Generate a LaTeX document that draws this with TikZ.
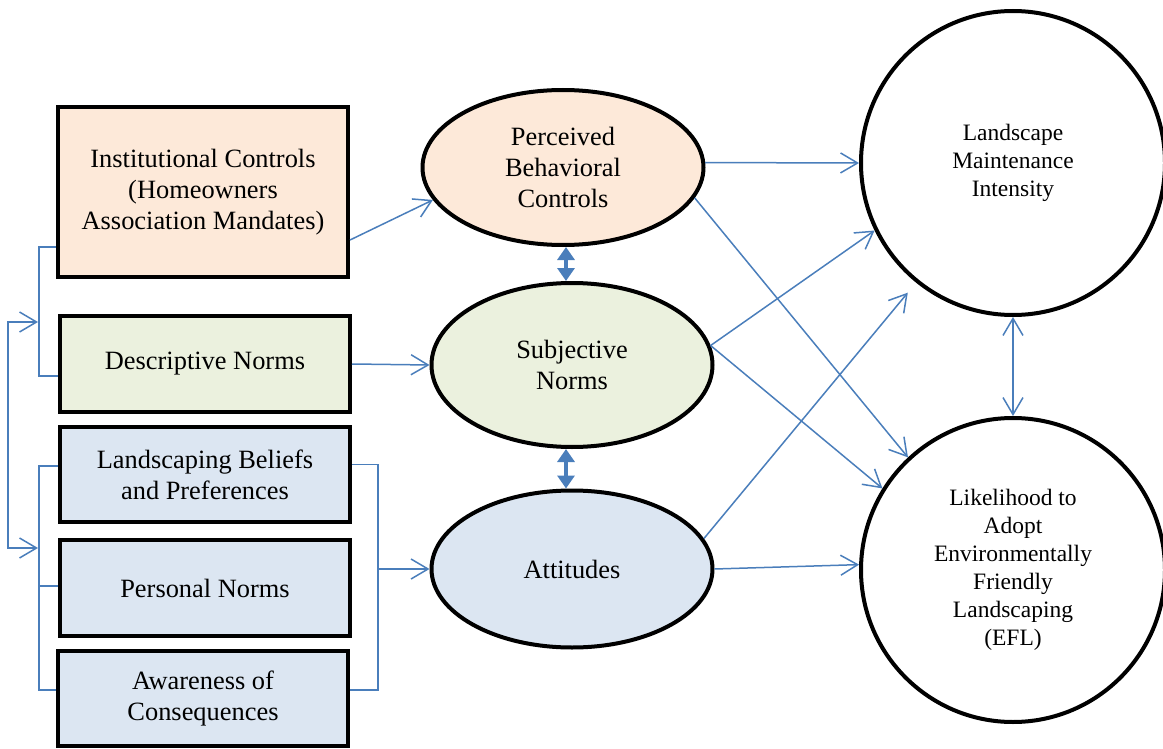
\documentclass[tikz,border=0pt]{standalone}
\usepackage{fontspec}
\setmainfont{Liberation Serif}
\usetikzlibrary{arrows.meta,shapes.geometric,calc}
\definecolor{linkblue}{HTML}{4A7EBB}
\definecolor{peachfill}{HTML}{FDE9D9}
\definecolor{sagefill}{HTML}{EBF1DE}
\definecolor{palefill}{HTML}{DCE6F2}
\begin{document}
\begin{tikzpicture}[x=1pt,y=-1pt,
  boxnode/.style={draw=black, line width=4pt, minimum width=290pt, inner sep=0pt, align=center, font=\fontsize{26.4}{31}\selectfont},
  ovalnode/.style={ellipse, draw=black, line width=4pt, inner sep=0pt, minimum width=281pt, align=center, font=\fontsize{26.4}{31}\selectfont},
  roundnode/.style={circle, draw=black, line width=4pt, minimum size=304pt, inner sep=0pt, align=center, font=\fontsize{23.5}{28}\selectfont},
  link/.style={draw=linkblue, line width=1.5pt},
  oarr/.style={link, -{Straight Barb[length=17pt,width=20pt]}},
  darr/.style={link, {Straight Barb[length=17pt,width=20pt]}-{Straight Barb[length=17pt,width=20pt]}},
  farr/.style={draw=linkblue, line width=3.5pt, {Triangle[length=13pt,width=17pt]}-{Triangle[length=13pt,width=17pt]}}
]
\useasboundingbox (0,0) rectangle (1163,749);

% left boxes
\node[boxnode, fill=peachfill, minimum height=170pt] (inst) at (203,192) {Institutional Controls\\(Homeowners\\Association Mandates)};
\node[boxnode, fill=sagefill, minimum height=96pt] (desc) at (205,364) {Descriptive Norms};
\node[boxnode, fill=palefill, minimum height=95pt] (lbp) at (205,474.5) {Landscaping Beliefs\\and Preferences};
\node[boxnode, fill=palefill, minimum height=96pt] (pn) at (205,588) {Personal Norms};
\node[boxnode, fill=palefill, minimum height=95pt] (aoc) at (203,698.5) {Awareness of\\Consequences};

% ellipses
\node[ovalnode, fill=peachfill, minimum height=155pt] (perc) at (563,167.5) {Perceived\\Behavioral\\Controls};
\node[ovalnode, fill=sagefill, minimum height=164pt] (subj) at (572,365) {Subjective\\Norms};
\node[ovalnode, fill=palefill, minimum height=157pt] (att) at (572,569) {Attitudes};

% circles
\node[roundnode] (lmi) at (1013,163) {Landscape\\Maintenance\\Intensity};
\node[roundnode] (lel) at (1013,570) {Likelihood to\\Adopt\\Environmentally\\Friendly\\Landscaping\\(EFL)};

% left brackets
\coordinate (ubx) at (39,0);
\coordinate (ua) at (38,322);
\coordinate (oa) at (8,322);
\coordinate (ob) at (8,548);
\coordinate (lb) at (38,548);
\draw[link] ([yshift=-55pt]inst.west) -- ([yshift=-55pt]inst.west -| ubx) -- ([yshift=-12pt]desc.west -| ubx) -- ([yshift=-12pt]desc.west);
\draw[link] ([yshift=8.5pt]lbp.west) -- ([yshift=8.5pt]lbp.west -| ubx) -- ([yshift=8.5pt]aoc.west -| ubx) -- ([yshift=8.5pt]aoc.west);
\draw[link] ([yshift=2pt]pn.west) -- ([yshift=2pt]pn.west -| ubx);
\draw[darr] (ua) -- (oa) -- (ob) -- (lb);

% right bracket
\coordinate (rb) at (378,569);
\draw[link] ([yshift=10pt]lbp.east) -| (rb) |- ([yshift=8.5pt]aoc.east);
\draw[oarr] (rb) -- (att.west);

% box to ellipse arrows
\draw[oarr] ([yshift=-48pt]inst.east) -- (perc.194);
\draw[oarr] (desc.east) -- (subj.west);

% ellipse double arrows
\coordinate (dx) at (566,0);
\draw[farr] (perc.south -| dx) -- (subj.north -| dx);
\draw[farr] (subj.south -| dx) -- (att.north -| dx);

% to circles
\draw[oarr] (perc.2) -- (lmi.180);
\draw[oarr] (perc.-13) -- (lel.133);
\draw[oarr] (subj.8) -- (lmi.206);
\draw[oarr] (subj.8) -- (lel.148);
\draw[oarr, shorten >=13pt] (att.13) -- (lmi.231);
\draw[oarr] (att.east) -- (lel.178);

% circle double arrow
\draw[darr] (lmi.south) -- (lel.north);
\end{tikzpicture}
\end{document}
